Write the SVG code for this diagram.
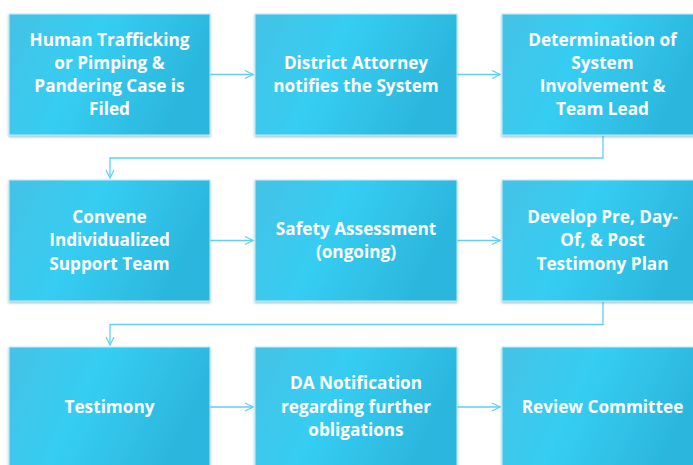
<svg xmlns="http://www.w3.org/2000/svg" width="693" height="465" viewBox="0 0 693 465">
  <defs>
    <linearGradient id="boxFill" x1="0" y1="0" x2="1" y2="0.3">
      <stop offset="0" stop-color="#45c2e6"/>
      <stop offset="0.45" stop-color="#36cdf2"/>
      <stop offset="1" stop-color="#2bb6dd"/>
    </linearGradient>
    <filter id="shadow" x="-5%" y="-5%" width="110%" height="115%">
      <feDropShadow dx="0" dy="1.5" stdDeviation="1" flood-color="#1a6f8a" flood-opacity="0.45"/>
    </filter>
    <marker id="arrow" viewBox="0 0 10 10" refX="9" refY="5" markerWidth="10" markerHeight="10" markerUnits="userSpaceOnUse" orient="auto">
      <path d="M1,1 L9,5 L1,9" fill="none" stroke="#62cfee" stroke-width="1.2"/>
    </marker>
  </defs>
  <style>
    .box { fill: url(#boxFill); stroke: #c4ecf7; stroke-width: 1; filter: url(#shadow); }
    .label { font-family: "Open Sans", "Liberation Sans", sans-serif; font-weight: bold; font-size: 17.2px; fill: #ffffff; text-anchor: middle; }
    .link { fill: none; stroke: #62cfee; stroke-width: 1.3; marker-end: url(#arrow); }
  </style>
  <rect width="693" height="465" fill="#ffffff"/>

  <g id="connectors">
    <path class="link" d="M210,74.5 H253"/>
    <path class="link" d="M457,74.5 H500"/>
    <path class="link" d="M603,136 V158 H110 V178"/>
    <path class="link" d="M210,240.5 H253"/>
    <path class="link" d="M457,240.5 H500"/>
    <path class="link" d="M603,302 V324.5 H110 V345"/>
    <path class="link" d="M210,407 H253"/>
    <path class="link" d="M457,407 H500"/>
  </g>

  <g id="case-filed">
    <rect class="box" x="9" y="14" width="201" height="121"/>
    <text class="label" x="109.5" y="46.3">Human Trafficking</text>
    <text class="label" x="109.5" y="69.3">or Pimping &amp;</text>
    <text class="label" x="109.5" y="92.3">Pandering Case is</text>
    <text class="label" x="109.5" y="115.3">Filed</text>
  </g>
  <g id="da-notifies">
    <rect class="box" x="255" y="14" width="202" height="121"/>
    <text class="label" x="356" y="69.3">District Attorney</text>
    <text class="label" x="356" y="92.3">notifies the System</text>
  </g>
  <g id="determination">
    <rect class="box" x="502" y="14" width="201" height="121"/>
    <text class="label" x="602.5" y="46.3">Determination of</text>
    <text class="label" x="602.5" y="69.3">System</text>
    <text class="label" x="602.5" y="92.3">Involvement &amp;</text>
    <text class="label" x="602.5" y="115.3">Team Lead</text>
  </g>

  <g id="support-team">
    <rect class="box" x="9" y="180" width="201" height="121"/>
    <text class="label" x="109.5" y="223.3">Convene</text>
    <text class="label" x="109.5" y="246.3">Individualized</text>
    <text class="label" x="109.5" y="270.3">Support Team</text>
  </g>
  <g id="safety-assessment">
    <rect class="box" x="255" y="180" width="202" height="121"/>
    <text class="label" x="356" y="235.3">Safety Assessment</text>
    <text class="label" x="356" y="258.3">(ongoing)</text>
  </g>
  <g id="testimony-plan">
    <rect class="box" x="502" y="180" width="201" height="121"/>
    <text class="label" x="602.5" y="223.3">Develop Pre, Day-</text>
    <text class="label" x="602.5" y="246.3">Of, &amp; Post</text>
    <text class="label" x="602.5" y="270.3">Testimony Plan</text>
  </g>

  <g id="testimony">
    <rect class="box" x="9" y="347" width="201" height="125"/>
    <text class="label" x="109.5" y="413.3">Testimony</text>
  </g>
  <g id="da-notification">
    <rect class="box" x="255" y="347" width="202" height="125"/>
    <text class="label" x="356" y="389.3">DA Notification</text>
    <text class="label" x="356" y="413.3">regarding further</text>
    <text class="label" x="356" y="436.3">obligations</text>
  </g>
  <g id="review-committee">
    <rect class="box" x="502" y="347" width="201" height="125"/>
    <text class="label" x="602.5" y="413.3">Review Committee</text>
  </g>
</svg>
